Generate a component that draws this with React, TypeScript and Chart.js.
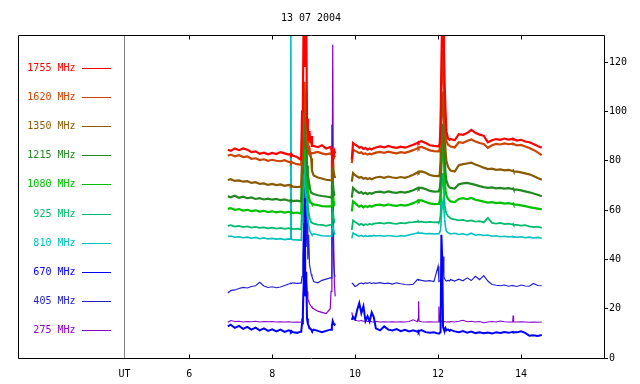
import React, { useEffect, useRef } from "react";
import { Chart, registerables } from "chart.js";

Chart.register(...registerables);

// ---- Time axis (UT hours) ----
const TIME_SEG1 = [
  6.93, 7.0, 7.1, 7.2, 7.3, 7.4, 7.5, 7.6, 7.7, 7.8, 7.9, 8.0, 8.1, 8.2, 8.3, 8.4, 8.44, 8.45, 8.46, 8.5, 8.6, 8.68,
  8.7, 8.72, 8.74, 8.76, 8.78, 8.8, 8.82, 8.84, 8.86, 8.88, 8.9, 8.92, 8.94, 8.96,
  9.0, 9.1, 9.2, 9.3, 9.4,
  9.42, 9.44, 9.46, 9.48, 9.5, 9.52,
];
const GAP_TIME = 9.7;
const TIME_SEG2 = [
  9.92, 9.95,
  10.0, 10.05, 10.1, 10.15, 10.2, 10.25, 10.3, 10.35, 10.4, 10.45, 10.5,
  10.6, 10.7, 10.8, 10.9, 11.0, 11.1, 11.2, 11.3, 11.4, 11.5,
  11.52, 11.53, 11.54,
  11.6, 11.7, 11.8, 11.9, 12.0,
  12.02, 12.04, 12.06, 12.08, 12.1, 12.12, 12.14, 12.16, 12.18, 12.2, 12.24, 12.28,
  12.3, 12.4, 12.5, 12.6, 12.7, 12.8, 12.9, 13.0, 13.1, 13.2, 13.3, 13.4, 13.5, 13.6, 13.7, 13.8,
  13.81, 13.82,
  13.9, 14.0, 14.1, 14.2, 14.3, 14.4, 14.5,
];

const X_TICKS = [6, 8, 10, 12, 14];
const UT_POS = 4.44;
const X_MAX = 16;
const Y_TICKS = [0, 20, 40, 60, 80, 100, 120];
const Y_MAX = 131;
const TITLE = "13 07 2004";

const LABELS = ["1755 MHz", "1620 MHz", "1350 MHz", "1215 MHz", "1080 MHz", "925 MHz", "810 MHz", "670 MHz", "405 MHz", "275 MHz"];
const COLORS = ["#ff0000", "#cc4400", "#8a5a00", "#228822", "#00c000", "#00bb6e", "#00c0c0", "#0000ff", "#2222cc", "#8800cc"];

// ---- Series values (flux units) ----
const F1755_S1 = [
  84.5, 84, 85, 84.3, 85, 84.5, 83.5, 83.8, 82.8, 83.3, 82.6, 83.2, 82.7, 83.5, 83, 82.5, 82.8, 82.5, 82.8, 82, 81.5, 80.5,
  80.5, 100, 104, 140, 140, 118, 140, 97, 93, 88, 92, 87, 90, 86,
  86, 85.5, 86.3, 85, 85.6,
  85.2, 83, 80, 82, 84, 83,
];
const F1755_S2 = [
  80.5, 87.2,
  86.5, 86, 85.3, 85.6, 84.8, 85.2, 84.5, 85, 84.6, 85.1, 85.4,
  85.8, 85.4, 86, 85.5, 85.2, 85.7, 85.3, 85.9, 86.5, 87.2,
  87.5, 87.3, 87.6,
  87.9, 87.2, 86.3, 86, 85.8,
  86, 87, 95, 120, 140, 140, 125, 110, 100, 92, 89, 88.5,
  88.8, 88.3, 90.8, 90.5, 91.2, 92.5, 91.3, 90.6, 90.2, 87.5, 88.3, 88.8, 88.5, 89, 88.6, 88.9,
  88.6, 88.8,
  88.2, 88.5, 87.8, 87.5, 86.8, 86, 85.3,
];

const F1620_S1 = [
  82, 82.5, 81.8, 82.3, 81.5, 81.8, 80.8, 81, 80.3, 80.6, 80, 80.4, 80, 79.8, 80.2, 79.5, 79.6, 79.3, 79.6, 79.2, 78.6, 78.4,
  78.4, 90, 95, 110, 112, 100, 105, 90, 86, 84, 85, 82.5, 83, 83,
  83.2, 83.6, 83, 82.6, 83,
  82.8, 82, 80, 81, 82, 81.5,
];
const F1620_S2 = [
  79, 84.5,
  84, 83.6, 83.1, 83.4, 82.7, 83, 82.5, 82.9, 82.6, 83, 83.3,
  83.6, 83.2, 83.7, 83.3, 83, 83.5, 83.2, 83.7, 84.3, 85,
  85.3, 85.1, 85.4,
  85.6, 85, 84.2, 83.9, 83.8,
  84, 84.5, 90, 108, 120, 125, 112, 100, 92, 88, 86.5, 86,
  85.8, 85.4, 87.5, 87.3, 88, 88.6, 87.8, 87.2, 86.8, 85.2, 86.3, 86.8, 86.6, 87, 86.7, 86.9,
  86.6, 86.8,
  86.2, 86.4, 85.8, 85.2, 84.4, 83.4, 82.3,
];

const F1350_S1 = [
  72.2, 72.5, 71.8, 72, 71.5, 71.7, 71, 71.3, 70.6, 70.8, 70.2, 70.6, 70.1, 70.4, 69.8, 70.2, 70, 69.8, 70, 69.5, 69.3, 69.5,
  69.5, 80, 90, 100, 105, 95, 98, 86, 84, 83, 82.5, 83, 81, 76,
  74, 73.2, 72.8, 72.3, 72.1,
  72, 80, 83, 76, 74, 73,
];
const F1350_S2 = [
  71.5, 75,
  74.2, 73.6, 73.1, 73.4, 72.7, 73, 72.6, 72.9, 72.5, 72.9, 73.2,
  73.5, 73.1, 73.6, 73.2, 73, 73.4, 73.1, 73.6, 74.3, 75.2,
  75.5, 75.3, 75.6,
  75.7, 75.1, 74.2, 73.9, 73.8,
  74, 74.5, 80, 95, 105, 108, 98, 90, 84, 80, 77.5, 76.5,
  76, 75.6, 78.2, 78.6, 78.9, 79.2, 78.5, 77.9, 77.2, 76.6, 76.8, 76.3, 76.5, 76.1, 76.3, 75.8,
  76, 75.7,
  75.6, 75.3, 74.9, 74.5, 73.8, 73, 72.3,
];

const F1215_S1 = [
  65.6, 65.2, 65.8, 65, 65.4, 64.8, 65.1, 64.5, 64.8, 64.3, 64.6, 64.2, 64.5, 64, 64.3, 63.8, 64, 63.8, 64, 63.6, 63.8, 63.5,
  63.5, 75, 80, 95, 98, 85, 90, 78, 74, 72, 70, 68, 67, 67,
  66.5, 66, 65.7, 65.5, 65.2,
  65, 70, 72, 68, 66, 66,
];
const F1215_S2 = [
  65, 69,
  68.2, 67.5, 66.9, 67.3, 66.6, 67, 66.5, 66.9, 66.6, 67, 67.3,
  67.5, 67.1, 67.6, 67.2, 67, 67.4, 67.1, 67.5, 68, 68.8,
  69, 68.8, 69.1,
  69, 68.5, 67.8, 67.5, 67.6,
  68, 68.5, 72, 85, 92, 95, 88, 80, 75, 72, 70, 69.2,
  69, 68.7, 70.5, 70.8, 71, 70.6, 70.2, 69.7, 69.3, 69, 69.2, 68.8, 69, 68.7, 68.9, 68.5,
  68.7, 68.4,
  68.3, 68, 67.6, 67.2, 66.7, 66.2, 65.6,
];

const F1080_S1 = [
  60.5, 60.8, 60.1, 60.4, 59.8, 60.1, 59.6, 59.9, 59.4, 59.7, 59.2, 59.5, 59.1, 59.4, 59, 59.3, 59.1, 59, 59.2, 58.8, 59, 58.6,
  58.6, 70, 75, 90, 92, 80, 85, 72, 68, 66, 64, 63, 63, 62.5,
  62.3, 62, 61.6, 61.5, 61.5,
  61.5, 66, 68, 64, 62, 62,
];
const F1080_S2 = [
  59.5, 63.5,
  62.8, 62, 61.4, 61.8, 61.1, 61.6, 61.2, 61.7, 61.3, 61.8, 62,
  62.2, 61.8, 62.3, 61.9, 61.7, 62.1, 61.8, 62.2, 62.8, 63.6,
  63.9, 63.7, 64,
  63.9, 63.3, 62.7, 62.4, 62.5,
  63, 63.5, 67, 78, 85, 88, 80, 72, 68, 66, 64.5, 63.8,
  63.5, 63.2, 64.5, 64.8, 64.4, 64.9, 64.2, 63.8, 63.4, 63, 63.2, 62.8, 63, 62.6, 62.8, 62.4,
  62.6, 62.3,
  62.2, 61.9, 61.6, 61.2, 60.9, 60.6, 60.3,
];

const F925_S1 = [
  53.6, 53.9, 53.3, 53.6, 53.1, 53.4, 52.9, 53.2, 52.8, 53, 52.6, 52.9, 52.5, 52.8, 52.4, 52.7, 52.5, 52.4, 52.6, 52.3, 52.5, 52.2,
  52.2, 62, 68, 85, 88, 75, 80, 66, 62, 59, 57, 56, 55, 55,
  54.5, 54.1, 54, 53.6, 54,
  54, 58, 60, 57, 55, 55,
];
const F925_S2 = [
  52, 55.8,
  55.2, 54.6, 54, 54.4, 53.8, 54.3, 54, 54.4, 54.1, 54.5, 54.6,
  54.8, 54.5, 54.9, 54.6, 54.4, 54.8, 54.6, 55, 55.1, 55.3,
  55.2, 55.4, 55.2,
  55.3, 55, 55.2, 55, 55.1,
  55, 55.5, 58, 68, 72, 75, 68, 62, 60, 58.5, 57.5, 57,
  56.6, 56.2, 55.8, 56, 55.5, 55.8, 55.3, 55.5, 55, 56.8, 54.8, 54.5, 54.8, 54.3, 54.5, 54.1,
  54.3, 54,
  54, 53.7, 53.9, 53.4, 53.1, 53.3, 52.8,
];

const F810_S1 = [
  49.3, 49.5, 49, 49.2, 48.8, 49, 48.6, 48.9, 48.4, 48.7, 48.3, 48.5, 48.2, 48.4, 48, 48.3, 48.2, 140, 48.1, 48, 47.9, 47.8,
  47.8, 55, 60, 75, 78, 65, 70, 60, 56, 54, 52, 51, 50.5, 50,
  50.4, 50, 49.6, 49.5, 49.5,
  49.5, 52, 54, 52, 50.5, 50,
];
const F810_S2 = [
  48.5, 50.7,
  50.2, 49.7, 49.4, 49.7, 49.3, 49.6, 49.3, 49.6, 49.4, 49.7, 49.5,
  49.7, 49.4, 49.7, 49.5, 49.3, 49.6, 49.5, 49.9, 50.3, 50.7,
  50.6, 50.8, 50.6,
  50.7, 50.4, 50.5, 50.3, 50.4,
  50.5, 51, 52, 58, 62, 64, 60, 56, 53, 51.5, 50.8, 50.5,
  50.3, 50.6, 50.1, 50.4, 49.9, 50.6, 49.8, 50.1, 49.7, 49.9, 49.4, 49.6, 49.2, 49.4, 49.1, 49.3,
  49, 49.2,
  49, 49.2, 48.8, 49, 48.7, 48.9, 48.6,
];

const F670_S1 = [
  12.8, 13.5, 12.2, 13, 11.8, 12.6, 11.5, 12.3, 11.2, 12, 11, 11.6, 10.8, 11.5, 10.6, 11.2, 10.9, 10.7, 11, 10.5, 10.2, 10.6,
  10.6, 14, 18, 30, 95, 25, 35, 16, 14, 13, 12, 12, 11.5, 11,
  11.5, 11, 10.5, 11, 11.5,
  11.5, 13, 15, 14, 13.5, 14,
];
const F670_S2 = [
  15.5, 16.8,
  15.8, 19.5, 22.3, 18.2, 21, 15, 17, 14.8, 18.5, 16.5, 12,
  11.2, 12.8, 11.5, 11.2, 11.7, 10.9, 11.4, 10.8, 11.2, 10.7,
  11, 10.6, 10.9,
  11.3, 10.5, 10.2, 10.4, 9.9,
  10, 10.2, 10.5, 50, 40, 12.5, 11.5, 11, 12, 11.2, 11.6, 11,
  11.4, 10.8, 10.5, 10.9, 10.3, 10.7, 10.1, 10.4, 10, 10.3, 9.9, 10.4, 10.1, 10.5, 10.2, 10.6,
  10.3, 10.5,
  10.4, 10.8, 10.2, 9, 9.2, 8.9, 9.3,
];

const F405_S1 = [
  26.4, 27.3, 27.6, 28.2, 28.6, 28.4, 29, 29.3, 30.7, 29.2, 28.6, 28.9, 28.5, 28.8, 29.4, 30, 30.2, 30.3, 30.2, 30.5, 30.3, 30.4,
  30.4, 33, 40, 55, 48, 75, 45, 62, 40, 50, 38, 36, 34, 33,
  31, 30.5, 31.5, 32, 32.5,
  32.5, 94.6, 60, 40, 34, 33,
];
const F405_S2 = [
  30.4, 30,
  29, 29.4, 30.2, 30.4, 30.1, 30.5, 30.3, 30.6, 30.2, 30.5, 30.3,
  30.6, 30.2, 30.4, 30, 30.5, 30.1, 29.8, 29.7, 29.9, 31.8,
  31.9, 31.7, 31.8,
  31.5, 31.2, 31.4, 31, 37.2,
  31, 31.2, 31, 31.5, 32, 41.2, 33, 32, 31.5, 31.2, 31.5, 31.3,
  31.8, 31.2, 32, 31.3, 32.5, 31.4, 33.1, 31.8, 33.4, 31.2, 29.8, 29.5, 29.3, 29.6, 29.1, 29.4,
  29.2, 29.3,
  29, 29.6, 29.2, 29.1, 30.2, 29.4, 29.3,
];

const F275_S1 = [
  14.5, 15.2, 14.8, 14.9, 14.6, 14.8, 14.7, 14.9, 14.6, 14.8, 14.7, 14.8, 14.6, 14.7, 14.6, 14.7, 14.6, 14.6, 14.6, 14.5, 14.6, 14.5,
  14.5, 16, 20, 30, 34, 28, 32, 27, 24, 23, 22, 21.5, 21, 20.5,
  20, 19, 18.5, 18, 20,
  27, 40, 127, 50, 30, 25,
];
const F275_S2 = [
  18.5, 16,
  15.3, 15.1, 15, 15.2, 14.9, 15, 14.8, 14.9, 14.7, 14.6, 14.8,
  14.6, 14.7, 14.6, 14.7, 14.6, 14.7, 14.6, 14.8, 15.5, 14.7,
  16, 23, 15,
  14.7, 14.6, 14.7, 14.6, 14.6,
  20.9, 14.6, 14.6, 14.8, 15.2, 15, 14.8, 14.7, 14.7, 14.6, 14.7, 14.6,
  14.8, 14.6, 14.9, 15.3, 14.7, 14.9, 14.6, 14.8, 14.3, 14.6, 14.8, 14.6, 15, 14.7, 14.6, 14.7,
  17.2, 14.7,
  14.6, 14.7, 14.6, 14.5, 14.6, 14.5, 14.6,
];

const SERIES_S1 = [F1755_S1, F1620_S1, F1350_S1, F1215_S1, F1080_S1, F925_S1, F810_S1, F670_S1, F405_S1, F275_S1];
const SERIES_S2 = [F1755_S2, F1620_S2, F1350_S2, F1215_S2, F1080_S2, F925_S2, F810_S2, F670_S2, F405_S2, F275_S2];
const LINE_WIDTHS = [2.2, 2.2, 2.2, 2.2, 2.2, 1.8, 1.6, 2, 1.2, 1.2];

const FONT = "'DejaVu Sans Mono', 'Liberation Mono', monospace";

function buildPoints(s1: number[], s2: number[]) {
  const times = [...TIME_SEG1, GAP_TIME, ...TIME_SEG2];
  const vals: (number | null)[] = [...s1, null, ...s2];
  return times.map((x, i) => ({ x, y: vals[i] }));
}

const framePlugin = {
  id: "framePlugin",
  afterDraw(chart: any) {
    const { ctx, chartArea } = chart;
    const xs = chart.scales.x;
    const left = 18.5;
    const top = 35.5;
    const right = chartArea.right + 0.5;
    const bottom = chartArea.bottom + 0.5;
    ctx.save();
    // title
    ctx.fillStyle = "#000";
    ctx.font = `10px ${FONT}`;
    ctx.textAlign = "center";
    ctx.textBaseline = "middle";
    ctx.fillText(TITLE, (18 + chartArea.right) / 2, 18);
    // separator line between legend and plot
    ctx.strokeStyle = "#808080";
    ctx.lineWidth = 1;
    ctx.beginPath();
    const sx = Math.floor(chartArea.left) + 0.5;
    ctx.moveTo(sx, top);
    ctx.lineTo(sx, bottom);
    ctx.stroke();
    // frame
    ctx.strokeStyle = "#000";
    ctx.beginPath();
    ctx.moveTo(left, top);
    ctx.lineTo(right, top);
    ctx.lineTo(right, bottom);
    ctx.lineTo(left, bottom);
    ctx.closePath();
    ctx.stroke();
    // inward ticks on top and bottom
    ctx.beginPath();
    X_TICKS.forEach((v) => {
      const px = Math.round(xs.getPixelForValue(v)) + 0.5;
      ctx.moveTo(px, bottom);
      ctx.lineTo(px, bottom - 4);
      ctx.moveTo(px, top);
      ctx.lineTo(px, top + 4);
    });
    ctx.stroke();
    // legend
    ctx.textAlign = "right";
    LABELS.forEach((lab, i) => {
      const y = Math.round(67.5 + i * 29.2);
      ctx.fillStyle = COLORS[i];
      ctx.fillText(lab, 75.5, y);
      ctx.strokeStyle = COLORS[i];
      ctx.beginPath();
      ctx.moveTo(82, y + 0.5);
      ctx.lineTo(111, y + 0.5);
      ctx.stroke();
    });
    ctx.restore();
  },
};

export default function App() {
  const ref = useRef<HTMLCanvasElement | null>(null);
  useEffect(() => {
    document.body.style.margin = "0";
    if (!ref.current) return;
    const chart = new Chart(ref.current, {
      type: "line",
      data: {
        datasets: LABELS.map((lab, i) => ({
          label: lab,
          data: buildPoints(SERIES_S1[i], SERIES_S2[i]),
          borderColor: COLORS[i],
          backgroundColor: COLORS[i],
          borderWidth: LINE_WIDTHS[i],
          pointRadius: 0,
          tension: 0,
          spanGaps: false,
          fill: false,
        })),
      },
      options: {
        animation: false,
        responsive: false,
        maintainAspectRatio: false,
        events: [],
        layout: { padding: { left: 124.5, top: 35, right: 0, bottom: 0 } },
        plugins: { legend: { display: false }, tooltip: { enabled: false }, title: { display: false } },
        scales: {
          x: {
            type: "linear",
            min: UT_POS,
            max: X_MAX,
            border: { display: false },
            grid: { display: false, drawTicks: false },
            afterBuildTicks: (axis: any) => {
              axis.ticks = [UT_POS, ...X_TICKS].map((v) => ({ value: v }));
            },
            afterFit: (axis: any) => {
              axis.height = 26;
            },
            ticks: {
              autoSkip: false,
              maxRotation: 0,
              padding: 10,
              color: "#000",
              font: { family: FONT, size: 10 },
              callback: (v: any) => (v === UT_POS ? "UT" : String(v)),
            },
          },
          y: {
            type: "linear",
            position: "right",
            min: 0,
            max: Y_MAX,
            border: { display: false },
            grid: { drawOnChartArea: false, drawTicks: true, tickLength: 4, color: "#000" },
            afterBuildTicks: (axis: any) => {
              axis.ticks = Y_TICKS.map((v) => ({ value: v }));
            },
            afterFit: (axis: any) => {
              axis.width = 36;
            },
            ticks: {
              padding: 1,
              color: "#000",
              font: { family: FONT, size: 10 },
              callback: (v: any) => String(v),
            },
          },
        },
      },
      plugins: [framePlugin],
    });
    return () => chart.destroy();
  }, []);
  return <canvas ref={ref} width={640} height={384} style={{ display: "block" }} />;
}
